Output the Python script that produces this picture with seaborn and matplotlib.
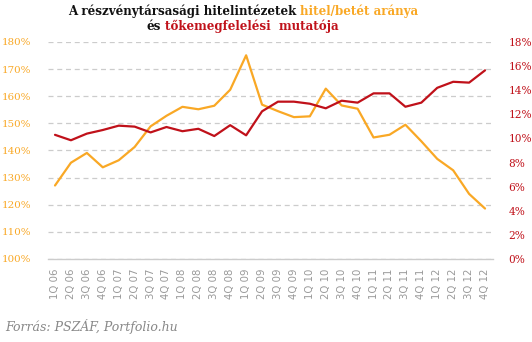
import matplotlib
matplotlib.use("Agg")
import matplotlib.pyplot as plt
import seaborn as sns
import pandas as pd
import numpy as np

# ---- data ----
quarters = ["1Q 06", "2Q 06", "3Q 06", "4Q 06",
            "1Q 07", "2Q 07", "3Q 07", "4Q 07",
            "1Q 08", "2Q 08", "3Q 08", "4Q 08",
            "1Q 09", "2Q 09", "3Q 09", "4Q 09",
            "1Q 10", "2Q 10", "3Q 10", "4Q 10",
            "1Q 11", "2Q 11", "3Q 11", "4Q 11",
            "1Q 12", "2Q 12", "3Q 12", "4Q 12"]
loan_deposit = [127.1, 135.5, 139.1, 133.8, 136.4, 141.3, 148.9, 152.8,
                156.1, 155.2, 156.5, 162.4, 175.1, 156.9, 154.5, 152.3,
                152.6, 162.8, 156.6, 155.4, 144.8, 145.8, 149.5, 143.4,
                136.9, 132.7, 124.0, 118.6]
capital_ratio = [10.3, 9.85, 10.4, 10.7, 11.06, 10.98, 10.5, 10.95,
                 10.6, 10.8, 10.2, 11.1, 10.26, 12.25, 13.05, 13.05,
                 12.88, 12.5, 13.13, 12.97, 13.74, 13.74, 12.63, 12.97,
                 14.2, 14.7, 14.63, 15.65]
left_ticks = [100, 110, 120, 130, 140, 150, 160, 170, 180]
right_ticks = [0, 2, 4, 6, 8, 10, 12, 14, 16, 18]

ORANGE = "#F9A825"
RED = "#C0111A"
GRID = "#CCCCCC"

df = pd.DataFrame({"pos": np.arange(len(quarters)),
                   "quarter": quarters,
                   "loan": loan_deposit,
                   "cap": capital_ratio})

sns.set_style("white")
plt.rcParams["font.family"] = ["DejaVu Sans"]

fig = plt.figure(figsize=(5.32, 3.42), dpi=100)
W, H = 532, 342
ax = fig.add_axes([48 / W, 1 - 259 / H, (493 - 48) / W, (259 - 42) / H])
ax2 = ax.twinx()

sns.lineplot(data=df, x="pos", y="loan", ax=ax, color=ORANGE, linewidth=1.6)
sns.lineplot(data=df, x="pos", y="cap", ax=ax2, color=RED, linewidth=1.6)

ax.set_xlim(-0.44, 27.5)
ax.set_ylim(100, 180)
ax2.set_ylim(0, 18)

ax.set_yticks(left_ticks)
ax.set_yticklabels([f"{v}%" for v in left_ticks])
ax2.set_yticks(right_ticks)
ax2.set_yticklabels([f"{v}%" for v in right_ticks])

ax.set_xticks(df["pos"])
ax.set_xticklabels(quarters, rotation=90, color="#999999", fontsize=7.3,
                   family="DejaVu Sans")

for lab in ax.get_yticklabels():
    lab.set_color(ORANGE)
    lab.set_family("DejaVu Serif")
    lab.set_fontsize(7.4)
for lab in ax2.get_yticklabels():
    lab.set_color(RED)
    lab.set_family("DejaVu Serif")
    lab.set_fontsize(7.6)

ax.tick_params(axis="y", length=0, pad=12)
ax2.tick_params(axis="y", length=0, pad=11)
ax.tick_params(axis="x", length=0, pad=7)

ax.set_xlabel("")
ax.set_ylabel("")
ax2.set_ylabel("")
ax2.set_xlabel("")

for a in (ax, ax2):
    for s in ("left", "right", "top", "bottom"):
        a.spines[s].set_visible(False)
ax.spines["bottom"].set_visible(True)
ax.spines["bottom"].set_color(GRID)
ax.spines["bottom"].set_linewidth(1)

ax.yaxis.grid(True, color=GRID, linestyle=(0, (4, 3)), linewidth=0.9)
ax.xaxis.grid(False)
ax2.grid(False)
ax.set_axisbelow(True)

# ---- title with coloured pieces ----
renderer = fig.canvas.get_renderer()


def colored_line(parts, center_px, baseline_px, fontsize):
    texts = []
    widths = []
    for s, c in parts:
        t = fig.text(0, 1 - baseline_px / H, s, color=c, fontsize=fontsize,
                     fontweight="bold", family="DejaVu Serif",
                     ha="left", va="baseline")
        texts.append(t)
        widths.append(t.get_window_extent(renderer).width)
    sp_t = fig.text(0, 0, "a a", fontsize=fontsize, fontweight="bold",
                    family="DejaVu Serif")
    sp_t2 = fig.text(0, 0, "aa", fontsize=fontsize, fontweight="bold",
                     family="DejaVu Serif")
    space = sp_t.get_window_extent(renderer).width - sp_t2.get_window_extent(renderer).width
    sp_t.remove()
    sp_t2.remove()
    total = sum(widths) + space * (len(parts) - 1)
    x = center_px - total / 2
    for t, w in zip(texts, widths):
        t.set_x(x / W)
        x += w + space
    return total


line1 = [("A részvénytársasági hitelintézetek", "#111111"),
         ("hitel/betét aránya", ORANGE)]
line2 = [("és", "#111111"), ("tőkemegfelelési  mutatója", RED)]

colored_line(line1, 243, 15, 8.6)
colored_line(line2, 243, 30, 8.6)

fig.text(5 / W, 1 - 331 / H, "Forrás: PSZÁF, Portfolio.hu", color="#888888",
         fontsize=9, fontstyle="italic", family="DejaVu Serif",
         ha="left", va="baseline")

fig.savefig("out.png", dpi=100)
